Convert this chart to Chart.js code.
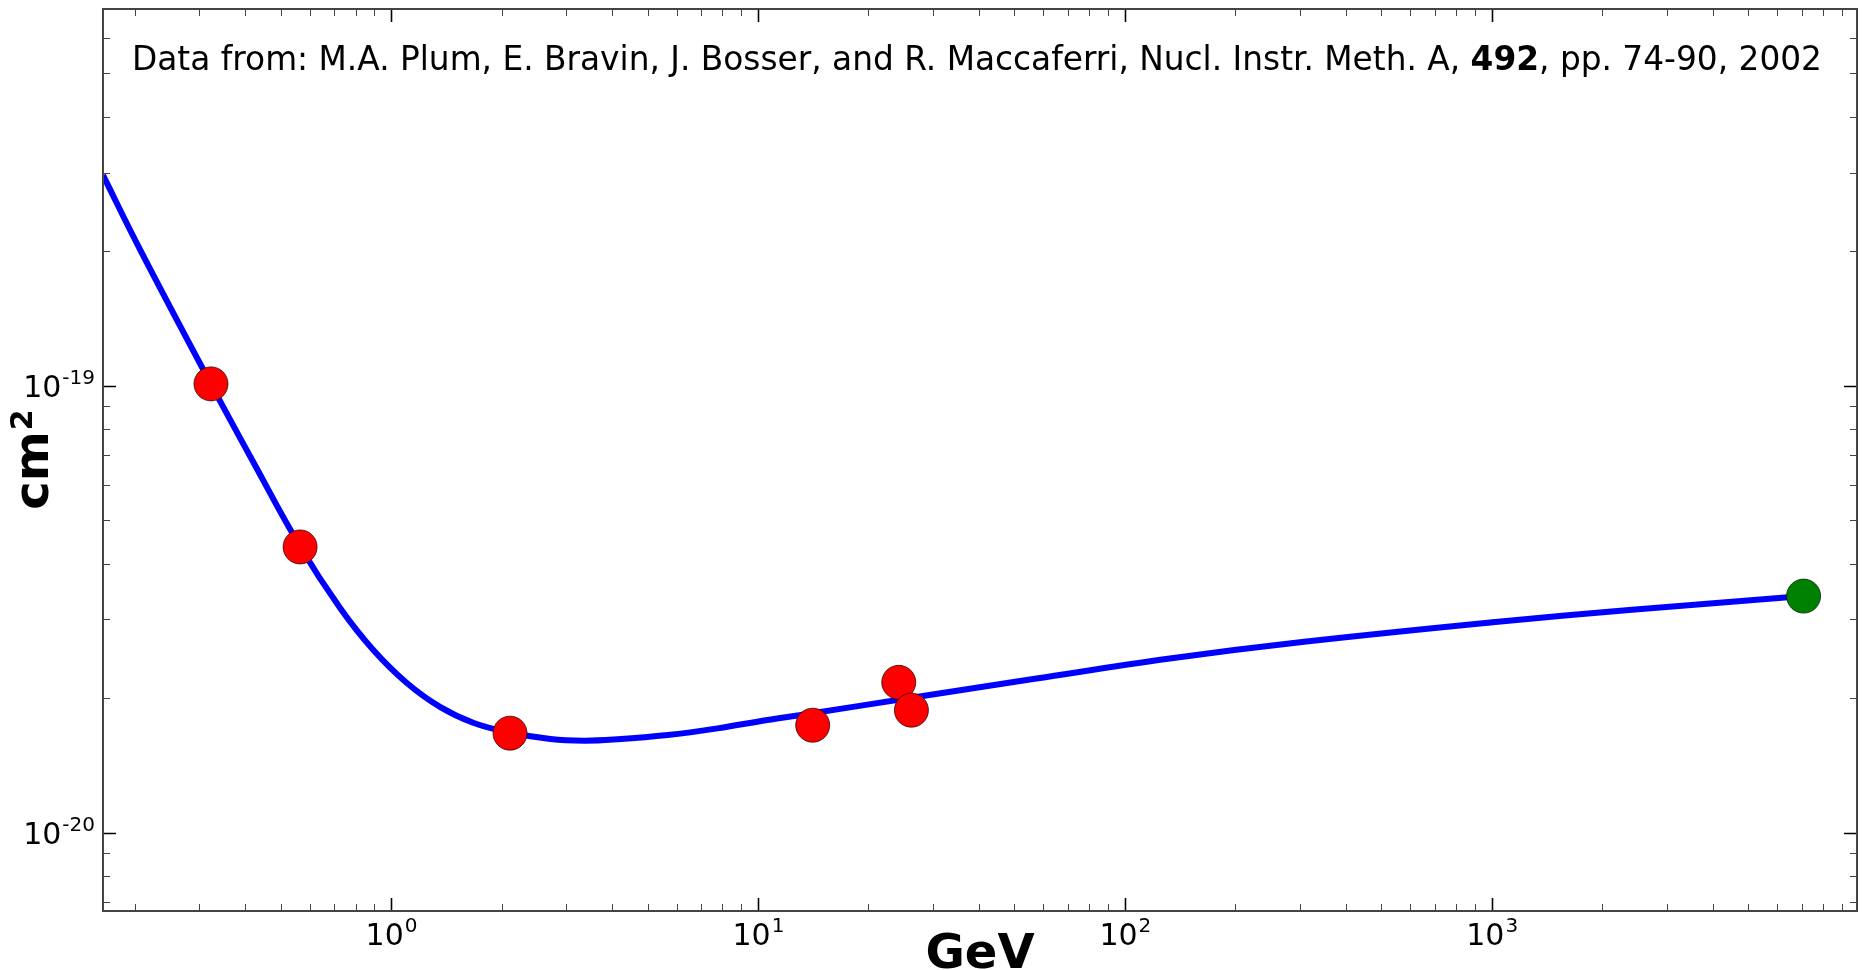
<!DOCTYPE html>
<html>
<head>
<meta charset="utf-8">
<title>Cross section vs energy</title>
<script src="https://cdn.jsdelivr.net/npm/chart.js@4"></script>
<style>
  html, body { margin: 0; padding: 0; background: #fff; }
  #wrap { width: 1862px; height: 970px; }
</style>
</head>
<body>
<div id="wrap"><canvas id="xsec" width="1862" height="970"></canvas></div>
<script>
// fitted curve, read along its length (GeV, cm^2)
const curveGeV = [0.164, 0.2068, 0.323, 0.42, 0.566, 0.727, 0.896, 1.106, 1.363, 1.681, 2.077,
                  2.72, 3.36, 4.14, 5.67, 7.76, 10.6, 13.1, 27.3, 56.8, 131, 304, 1023, 2367, 7080];
const curveCm2 = [2.96e-19, 2.02e-19, 1.009e-19, 6.78e-20, 4.36e-20, 3.18e-20, 2.56e-20, 2.16e-20,
                  1.91e-20, 1.76e-20, 1.68e-20, 1.62e-20, 1.606e-20, 1.618e-20, 1.654e-20, 1.712e-20,
                  1.787e-20, 1.834e-20, 2.015e-20, 2.21e-20, 2.45e-20, 2.67e-20, 2.96e-20,
                  3.15e-20, 3.384e-20];

// measured points
const measGeV = [0.323, 0.565, 2.11, 14.1, 24.2, 26.2];
const measCm2 = [1.01e-19, 4.36e-20, 1.67e-20, 1.74e-20, 2.17e-20, 1.88e-20];

// extrapolated point at 7 TeV
const lhcGeV = [7080];
const lhcCm2 = [3.384e-20];

// axis ranges and ticks
const xRange = [0.164, 9900];
const yRange = [6.68e-21, 6.97e-19];
const xMajor = [1, 10, 100, 1000];
const xMajorExp = ['0', '1', '2', '3'];
const xMinor = [0.2, 0.3, 0.4, 0.5, 0.6, 0.7, 0.8, 0.9,
                2, 3, 4, 5, 6, 7, 8, 9,
                20, 30, 40, 50, 60, 70, 80, 90,
                200, 300, 400, 500, 600, 700, 800, 900,
                2000, 3000, 4000, 5000, 6000, 7000, 8000, 9000];
const yMajor = [1e-20, 1e-19];
const yMajorExp = ['-20', '-19'];
const yMinor = [7e-21, 8e-21, 9e-21,
                2e-20, 3e-20, 4e-20, 5e-20, 6e-20, 7e-20, 8e-20, 9e-20,
                2e-19, 3e-19, 4e-19, 5e-19, 6e-19];

const FONT = "'DejaVu Sans', 'Liberation Sans', sans-serif";

function pairs(xs, ys) { return xs.map((v, i) => ({ x: v, y: ys[i] })); }

// "10" with a raised exponent
function powerWidth(ctx, exp) {
  ctx.font = `30px ${FONT}`;
  const wb = ctx.measureText('10').width;
  ctx.font = `20px ${FONT}`;
  const we = ctx.measureText(exp).width;
  return { wb, we, w: wb + we };
}

function drawPower(ctx, exp, left, baseline) {
  const m = powerWidth(ctx, exp);
  ctx.font = `30px ${FONT}`;
  ctx.fillText('10', left, baseline);
  ctx.font = `20px ${FONT}`;
  ctx.fillText(exp, left + m.wb + 1, baseline - 13);
}

const frame = {
  id: 'frame',
  afterDraw(chart) {
    const { ctx, chartArea: a, scales: { x, y } } = chart;
    ctx.save();

    // inward ticks on all four sides
    const tick = (vals, len, width, color) => {
      ctx.lineWidth = width;
      ctx.strokeStyle = color;
      ctx.beginPath();
      vals.forEach(v => {
        const px = Math.round(x.getPixelForValue(v)) + 0.5;
        ctx.moveTo(px, a.bottom); ctx.lineTo(px, a.bottom - len);
        ctx.moveTo(px, a.top); ctx.lineTo(px, a.top + len);
      });
      ctx.stroke();
    };
    const ytick = (vals, len, width, color) => {
      ctx.lineWidth = width;
      ctx.strokeStyle = color;
      ctx.beginPath();
      vals.forEach(v => {
        const py = Math.round(y.getPixelForValue(v)) + 0.5;
        ctx.moveTo(a.left, py); ctx.lineTo(a.left + len, py);
        ctx.moveTo(a.right, py); ctx.lineTo(a.right - len, py);
      });
      ctx.stroke();
    };
    tick(xMinor, 7, 1, '#444');
    tick(xMajor, 13, 1.6, '#000');
    ytick(yMinor, 7, 1, '#444');
    ytick(yMajor, 13, 1.6, '#000');

    ctx.lineWidth = 2;
    ctx.strokeStyle = '#444';
    ctx.strokeRect(a.left, a.top, a.right - a.left, a.bottom - a.top);

    // tick labels
    ctx.fillStyle = '#000';
    ctx.textBaseline = 'alphabetic';
    ctx.textAlign = 'left';
    xMajor.forEach((v, i) => {
      const m = powerWidth(ctx, xMajorExp[i]);
      drawPower(ctx, xMajorExp[i], x.getPixelForValue(v) - m.w / 2, 945);
    });
    yMajor.forEach((v, i) => {
      const m = powerWidth(ctx, yMajorExp[i]);
      drawPower(ctx, yMajorExp[i], a.left - 9 - m.w, y.getPixelForValue(v) + 11);
    });

    // axis titles
    ctx.font = `bold 48px ${FONT}`;
    ctx.textAlign = 'center';
    ctx.fillText('GeV', (a.left + a.right) / 2, 968);

    ctx.save();
    ctx.translate(48, (a.top + a.bottom) / 2);
    ctx.rotate(-Math.PI / 2);
    ctx.textAlign = 'left';
    ctx.font = `bold 48px ${FONT}`;
    const wcm = ctx.measureText('cm').width;
    ctx.font = `bold 30px ${FONT}`;
    const w2 = ctx.measureText('2').width;
    const start = -(wcm + w2) / 2;
    ctx.font = `bold 48px ${FONT}`;
    ctx.fillText('cm', start, 0);
    ctx.font = `bold 30px ${FONT}`;
    ctx.fillText('2', start + wcm + 1, -16);
    ctx.restore();

    // source note, volume number in bold
    const parts = [
      ['Data from: M.A. Plum, E. Bravin, J. Bosser, and R. Maccaferri, Nucl. Instr. Meth. A, ', ''],
      ['492', 'bold '],
      [', pp. 74-90, 2002', '']
    ];
    ctx.textAlign = 'left';
    let total = 0;
    parts.forEach(p => { ctx.font = `${p[1]}32.8px ${FONT}`; total += ctx.measureText(p[0]).width; });
    let cx = (a.left + a.right) / 2 - total / 2 - 3;
    parts.forEach(p => {
      ctx.font = `${p[1]}32.8px ${FONT}`;
      ctx.fillText(p[0], cx, 70);
      cx += ctx.measureText(p[0]).width;
    });

    ctx.restore();
  }
};

new Chart(document.getElementById('xsec').getContext('2d'), {
  type: 'scatter',
  data: {
    datasets: [
      {
        label: 'measured',
        data: pairs(measGeV, measCm2),
        backgroundColor: '#ff0000',
        borderColor: 'rgba(40,0,0,0.75)',
        borderWidth: 1,
        pointRadius: 17,
        order: 0
      },
      {
        label: '7 TeV',
        data: pairs(lhcGeV, lhcCm2),
        backgroundColor: '#008000',
        borderColor: 'rgba(0,30,0,0.75)',
        borderWidth: 1,
        pointRadius: 17,
        order: 0
      },
      {
        type: 'line',
        label: 'fit',
        data: pairs(curveGeV, curveCm2),
        borderColor: '#0000ff',
        borderWidth: 6,
        pointRadius: 0,
        fill: false,
        tension: 0.4,
        order: 1
      }
    ]
  },
  options: {
    responsive: false,
    animation: false,
    events: [],
    layout: { autoPadding: false, padding: { left: 103, top: 9, right: 5, bottom: 59 } },
    plugins: { legend: { display: false }, tooltip: { enabled: false } },
    scales: {
      x: { type: 'logarithmic', min: xRange[0], max: xRange[1], display: false },
      y: { type: 'logarithmic', min: yRange[0], max: yRange[1], display: false }
    }
  },
  plugins: [frame]
});
</script>
</body>
</html>
